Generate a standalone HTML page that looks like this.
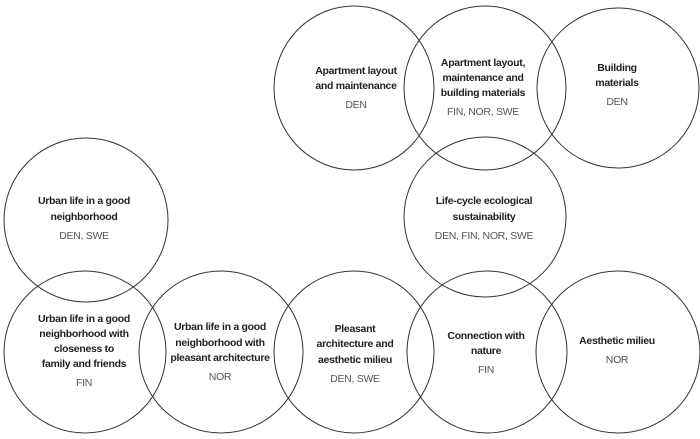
<!DOCTYPE html>
<html><head><meta charset="utf-8"><style>
html,body{margin:0;padding:0;background:#fff;}
svg{display:block;}
text{font-family:"Liberation Sans",sans-serif;font-size:10.5px;letter-spacing:-0.3px;text-anchor:middle;fill:#222;}
.b{font-weight:bold;}
.c{fill:#555;}
</style></head><body>
<svg width="700" height="439" viewBox="0 0 700 439">
<g fill="none" stroke="#333" stroke-width="1">
<ellipse cx="354" cy="88" rx="80" ry="82"/>
<ellipse cx="485" cy="88" rx="81" ry="82"/>
<ellipse cx="618" cy="88" rx="81" ry="80"/>
<ellipse cx="485" cy="217" rx="81" ry="80"/>
<ellipse cx="86" cy="220" rx="82" ry="82"/>
<ellipse cx="85" cy="352" rx="81" ry="81"/>
<ellipse cx="221" cy="352" rx="82" ry="81"/>
<ellipse cx="354" cy="352" rx="80" ry="81"/>
<ellipse cx="487" cy="352" rx="80" ry="81"/>
<ellipse cx="618" cy="352" rx="82" ry="81"/>
</g>
<text class="b" x="356" y="74">Apartment layout</text>
<text class="b" x="356" y="89">and maintenance</text>
<text class="c" x="356" y="108">DEN</text>

<text class="b" x="483" y="66">Apartment layout,</text>
<text class="b" x="483" y="81">maintenance and</text>
<text class="b" x="483" y="96">building materials</text>
<text class="c" x="483" y="115">FIN, NOR, SWE</text>

<text class="b" x="617" y="71">Building</text>
<text class="b" x="617" y="86">materials</text>
<text class="c" x="617" y="105">DEN</text>

<text class="b" x="484" y="204">Life-cycle ecological</text>
<text class="b" x="484" y="220">sustainability</text>
<text class="c" x="484" y="239">DEN, FIN, NOR, SWE</text>

<text class="b" x="84" y="204">Urban life in a good</text>
<text class="b" x="84" y="220">neighborhood</text>
<text class="c" x="84" y="239">DEN, SWE</text>

<text class="b" x="84" y="322">Urban life in a good</text>
<text class="b" x="84" y="337">neighborhood with</text>
<text class="b" x="84" y="352">closeness to</text>
<text class="b" x="84" y="367">family and friends</text>
<text class="c" x="84" y="386">FIN</text>

<text class="b" x="220" y="330">Urban life in a good</text>
<text class="b" x="220" y="346">neighborhood with</text>
<text class="b" x="220" y="361">pleasant architecture</text>
<text class="c" x="220" y="380">NOR</text>

<text class="b" x="355" y="332">Pleasant</text>
<text class="b" x="355" y="347">architecture and</text>
<text class="b" x="355" y="363">aesthetic milieu</text>
<text class="c" x="355" y="382">DEN, SWE</text>

<text class="b" x="486" y="339">Connection with</text>
<text class="b" x="486" y="354">nature</text>
<text class="c" x="486" y="373">FIN</text>

<text class="b" x="617" y="344">Aesthetic milieu</text>
<text class="c" x="617" y="363">NOR</text>
</svg>
</body></html>
